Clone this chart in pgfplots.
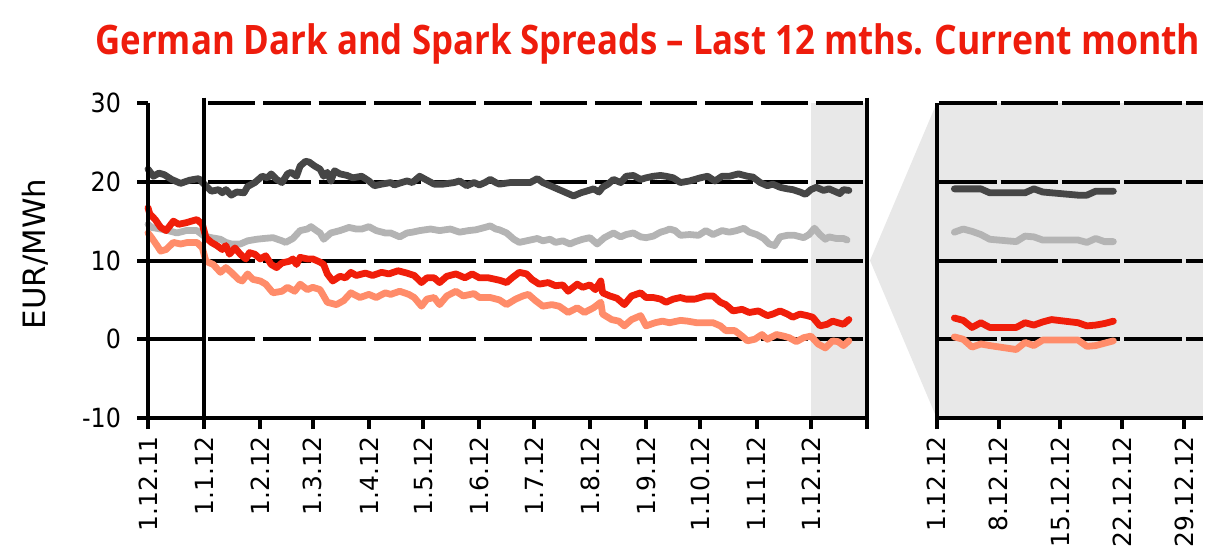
\documentclass[border=0pt]{standalone}
\usepackage{graphicx}
\usepackage{fontspec}
\setmainfont{DejaVu Sans}
\newfontfamily\titlefont{Open Sans}
\newfontfamily\condfont{DejaVu Sans Condensed}
\usepackage{pgfplots}
\pgfplotsset{compat=1.18}
\definecolor{dgray}{HTML}{464646}
\definecolor{lgray}{HTML}{B4B4B4}
\definecolor{sred}{HTML}{F01E0A}
\definecolor{salmon}{HTML}{FF8C6A}
\definecolor{bggray}{HTML}{E8E8E8}
\definecolor{titlered}{HTML}{EE1C0C}
\newcommand\tickfont{\fontsize{12.5}{13}\selectfont}
\newcommand\ytickfont{\condfont\fontsize{13.2}{14}\selectfont}
\begin{document}
\begin{tikzpicture}
\path[use as bounding box] (0,0) rectangle (615.5pt,-277pt);
\node[anchor=base west, inner sep=0, text=titlered] at (47.5pt,-27pt)
  {\titlefont\bfseries\fontsize{20.3}{21}\selectfont\resizebox{414pt}{\height}{German Dark and Spark Spreads – Last 12 mths.}};
\node[anchor=base west, inner sep=0, text=titlered] at (467pt,-27pt)
  {\titlefont\bfseries\fontsize{20.3}{21}\selectfont\resizebox{133pt}{\height}{Current month}};

\begin{axis}[
  name=L, at={(74pt,-209pt)}, anchor=south west,
  scale only axis, width=359.5pt, height=157.5pt,
  xmin=0, xmax=397, ymin=-10, ymax=30,
  clip=false,
  axis line style={draw=none},
  xtick={0,31,62,91,122,152,183,213,244,275,305,336,366,397},
  xticklabels={1.12.11,1.1.12,1.2.12,1.3.12,1.4.12,1.5.12,1.6.12,1.7.12,1.8.12,1.9.12,1.10.12,1.11.12,1.12.12,{}},
  ytick={-10,0,10,20,30},
  tick align=outside, major tick length=5.5pt,
  tick style={black, line width=2pt},
  xtick pos=bottom, ytick pos=left,
  xticklabel style={rotate=90, anchor=east, font=\tickfont},
  yticklabel style={font=\ytickfont, xshift=-4.5pt},
  /pgf/number format/assume math mode=true,
  ylabel={EUR/MWh},
  ylabel style={at={(axis description cs:-0.157,0.521)}, anchor=center, font=\fontsize{15.4}{16}\selectfont},
  every axis plot/.append style={line width=3.4pt, line join=round, line cap=round},
]
\fill[bggray] (366,-10) rectangle (397,30);
\draw[line width=2pt] (0,20) -- (31,20);
\draw[line width=2pt] (0,10) -- (31,10);
\draw[line width=2pt] (0,0) -- (31,0);
\draw[line width=2pt, dash pattern=on 23.62pt off 4pt, dash phase=25.62pt] (31,30) -- (397,30);
\draw[line width=2pt, dash pattern=on 23.62pt off 4pt, dash phase=25.62pt] (31,20) -- (397,20);
\draw[line width=2pt, dash pattern=on 23.62pt off 4pt, dash phase=25.62pt] (31,10) -- (397,10);
\draw[line width=2pt, dash pattern=on 23.62pt off 4pt, dash phase=25.62pt] (31,0) -- (397,0);

\addplot[dgray] table {
x y
0 21.6
3 20.7
6 21.1
9 20.9
13 20.3
18 19.8
23 20.2
28 20.4
31 19.7
35 18.8
39 19.0
41 18.6
43 19.0
46 18.3
49 18.7
53 18.6
55 19.4
59 19.9
63 20.7
66 20.5
68 21.0
71 20.3
74 19.9
77 21.0
79 21.2
82 20.7
84 22.0
87 22.6
89 22.5
92 22.0
95 21.6
97 20.7
99 21.2
101 20.1
103 21.4
106 21.0
110 20.8
113 20.5
118 20.7
122 20.1
125 19.5
129 19.7
134 19.9
136 19.6
140 19.9
143 20.1
146 19.9
150 20.7
154 20.2
158 19.7
163 19.7
169 19.9
172 20.1
176 19.5
180 19.9
183 19.6
186 19.9
189 20.3
192 19.9
194 19.7
200 19.9
205 19.9
211 19.9
215 20.4
218 19.9
222 19.5
227 19.0
231 18.6
235 18.2
239 18.6
242 18.8
246 19.1
249 18.7
251 19.3
254 19.7
257 20.3
261 19.9
264 20.7
268 20.8
272 20.3
275 20.5
279 20.7
283 20.8
286 20.7
290 20.5
294 19.9
299 20.1
305 20.5
309 20.7
313 20.1
317 20.7
321 20.7
326 21.0
331 20.7
334 20.6
338 19.9
342 19.5
345 19.7
349 19.3
353 19.1
356 19.0
360 18.7
363 18.4
366 19.0
369 19.3
373 18.9
376 19.1
378 18.9
382 18.5
384 19.0
387 18.9
};
\addplot[lgray] table {
x y
0 14.6
2 14.2
7 14.0
11 13.8
16 13.5
21 13.8
27 13.8
31 13.1
35 12.9
40 12.7
43 12.3
46 12.1
51 12.1
55 12.5
60 12.7
64 12.8
69 12.9
74 12.5
76 12.3
80 12.8
84 13.8
88 14.0
90 14.3
93 13.8
95 13.5
97 12.7
101 13.5
106 13.8
111 14.2
115 14.0
118 14.0
122 14.3
126 13.8
131 13.5
134 13.5
139 13.0
143 13.5
146 13.6
150 13.8
156 14.0
161 13.8
167 14.0
172 13.6
177 13.8
181 13.9
186 14.2
189 14.4
192 14.0
194 13.9
198 13.5
202 12.7
205 12.3
209 12.5
215 12.8
218 12.5
222 12.7
225 12.3
229 12.5
233 12.1
236 12.4
240 12.7
244 12.9
248 12.1
252 12.9
257 13.5
261 13.0
264 13.3
268 13.5
272 13.0
275 12.9
279 13.1
283 13.6
286 13.8
288 14.0
291 13.8
294 13.2
299 13.3
304 13.2
308 13.8
312 13.3
317 13.8
321 13.6
325 13.8
329 14.1
332 13.6
336 13.3
340 12.8
343 12.1
346 11.9
349 13.0
353 13.2
357 13.2
362 12.9
365 13.3
368 14.1
371 13.3
374 12.7
376 13.0
380 12.8
384 12.8
386 12.6
};
\addplot[sred] table {
x y
0 16.7
1 15.9
4 15.2
7 14.2
10 13.8
14 15.0
17 14.6
21 14.8
27 15.2
30 14.6
32 12.9
35 12.3
38 11.9
41 11.4
43 11.9
45 10.8
48 11.6
51 10.8
54 10.2
56 11.0
59 10.8
62 10.2
65 10.6
68 9.5
71 9.1
74 9.7
78 9.9
80 10.2
82 9.5
84 10.4
88 10.2
91 10.2
95 9.8
97 9.5
99 8.3
102 7.4
106 8.0
109 7.8
112 8.5
115 8.1
120 8.4
124 8.1
129 8.5
133 8.3
138 8.7
143 8.4
147 8.1
151 7.2
154 7.8
158 7.8
161 7.2
165 8.0
170 8.3
175 7.8
179 8.3
183 7.8
188 7.8
194 7.5
198 7.2
201 7.8
205 8.5
209 8.3
212 7.6
216 7.0
221 7.2
225 6.8
229 6.9
232 6.1
237 7.0
240 6.6
244 6.9
247 6.3
250 7.4
251 5.9
255 5.5
259 5.2
263 4.4
267 5.5
272 5.9
275 5.3
279 5.3
283 5.1
286 4.7
290 5.1
294 5.3
297 5.1
302 5.1
305 5.3
308 5.5
312 5.5
316 4.7
319 4.4
323 3.6
328 3.8
332 3.4
337 3.6
342 3.0
345 3.2
349 3.6
353 3.2
356 2.8
360 3.2
364 3.0
367 2.8
371 1.7
375 1.9
378 2.3
381 2.1
384 1.9
387 2.5
};
\addplot[salmon] table {
x y
0 13.5
2 12.9
5 11.9
7 11.2
10 11.4
14 12.3
18 12.1
22 12.3
27 12.3
30 11.6
32 9.9
36 9.5
40 8.5
43 9.1
46 8.5
50 7.6
52 7.4
55 8.3
58 7.6
62 7.4
65 7.0
69 5.9
74 6.1
77 6.6
81 6.1
84 7.0
88 6.3
91 6.6
95 6.3
97 5.5
99 4.7
104 4.4
108 4.9
112 5.9
117 5.3
122 5.7
126 5.3
131 5.9
134 5.7
139 6.1
144 5.7
147 5.3
151 4.2
154 5.1
158 5.3
161 4.4
165 5.5
170 6.1
174 5.5
180 5.8
183 5.3
189 5.3
194 5.0
198 4.4
203 5.1
207 5.5
210 5.7
214 4.9
218 4.2
223 4.4
227 4.2
232 3.4
237 4.0
241 3.4
246 4.0
250 4.7
251 3.2
256 2.5
260 2.3
263 1.7
267 2.5
272 3.0
275 1.7
280 2.1
284 2.3
288 2.1
294 2.4
298 2.3
303 2.1
307 2.1
312 2.1
316 1.7
319 1.1
324 1.1
328 0.4
331 -0.2
335 0.0
339 0.6
342 0.0
347 0.6
351 0.4
354 0.2
358 -0.3
362 0.2
366 0.4
370 -0.6
374 -1.1
378 -0.2
381 -0.3
384 -0.8
387 -0.2
};
\draw[line width=2pt] (0,30) -- (0,-10) -- (397,-10);
\draw[line width=2pt] (397,30.7) -- (397,-10);
\draw[line width=2.3pt] (31,30.7) -- (31,-10);
\end{axis}

\fill[bggray] (435pt,-130.25pt) -- (468.35pt,-51.5pt) -- (468.35pt,-209pt) -- cycle;

\begin{axis}[
  name=R, at={(468.35pt,-209pt)}, anchor=south west,
  scale only axis, width=133.15pt, height=157.5pt,
  xmin=1, xmax=31.15, ymin=-10, ymax=30,
  clip=false,
  axis line style={draw=none},
  axis background/.style={fill=bggray},
  xtick={1,8,15,22,29},
  xticklabels={1.12.12,8.12.12,15.12.12,22.12.12,29.12.12},
  ytick=\empty,
  tick align=outside, major tick length=5.5pt,
  tick style={black, line width=2pt},
  xtick pos=bottom,
  xticklabel style={rotate=90, anchor=east, font=\tickfont},
  every axis plot/.append style={line width=3.4pt, line join=round, line cap=round},
]
\draw[line width=2pt, dash pattern=on 28.9pt off 2pt, dash phase=29.9pt] (1,30) -- (31.15,30);
\draw[line width=2pt, dash pattern=on 28.9pt off 2pt, dash phase=29.9pt] (1,20) -- (31.15,20);
\draw[line width=2pt, dash pattern=on 28.9pt off 2pt, dash phase=29.9pt] (1,10) -- (31.15,10);
\draw[line width=2pt, dash pattern=on 28.9pt off 2pt, dash phase=29.9pt] (1,0) -- (31.15,0);
\addplot[dgray] table {
x y
3 19.1
4 19.1
5 19.1
6 19.1
7 18.6
10 18.6
11 18.6
12 19.1
13 18.7
14 18.6
17 18.3
18 18.3
19 18.8
20 18.8
21 18.8
};
\addplot[lgray] table {
x y
3 13.6
4 14.0
5 13.7
6 13.3
7 12.7
10 12.4
11 13.1
12 13.0
13 12.6
14 12.6
17 12.6
18 12.3
19 12.8
20 12.4
21 12.4
};
\addplot[sred] table {
x y
3 2.7
4 2.4
5 1.5
6 2.1
7 1.5
10 1.5
11 2.1
12 1.8
13 2.2
14 2.5
17 2.1
18 1.7
19 1.8
20 2.0
21 2.3
};
\addplot[salmon] table {
x y
3 0.3
4 0.0
5 -1.0
6 -0.6
7 -0.8
10 -1.3
11 -0.4
12 -0.8
13 -0.1
14 -0.1
17 -0.1
18 -0.9
19 -0.8
20 -0.5
21 -0.2
};
\draw[line width=2pt] (1,30) -- (1,-10) -- (31.15,-10);
\end{axis}
\end{tikzpicture}
\end{document}
